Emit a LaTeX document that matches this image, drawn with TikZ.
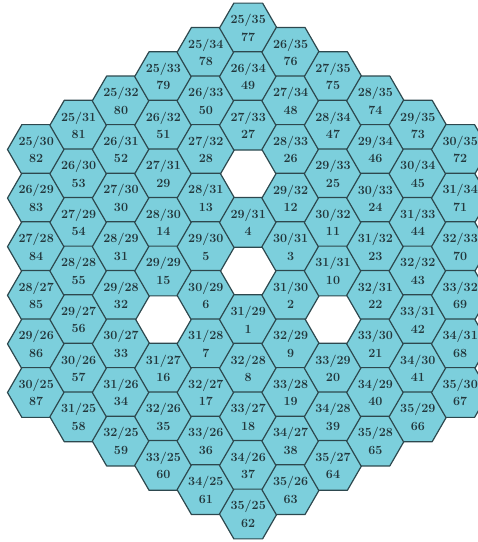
\documentclass[tikz,border=0pt]{standalone}
\usepackage{amsmath,amssymb}
\usepackage{tikz}
\usetikzlibrary{shapes.geometric}
\definecolor{cellfill}{RGB}{124,207,220}
\definecolor{celledge}{RGB}{45,72,78}
\definecolor{celltext}{RGB}{35,55,60}
\begin{document}
\begin{tikzpicture}[line cap=round,line join=round,x={(42.4pt,-24.3pt)},y={(42.4pt,24.3pt)},
  hexcell/.style={shape=regular polygon,regular polygon sides=6,minimum size=56.4pt,inner sep=0pt,
    draw=celledge,fill=cellfill,line width=1.2pt,text=celltext,align=center,
    font=\fontsize{12.5}{17.5}\selectfont\bfseries}]
\useasboundingbox (2295.8pt,-271pt) rectangle (2773.8pt,271pt);
\clip (2295.8pt,-271pt) rectangle (2773.8pt,271pt);
\node [hexcell] (h25-30) at (25,30) {25/30\\82};
\node [hexcell] (h26-29) at (26,29) {26/29\\83};
\node [hexcell] (h27-28) at (27,28) {27/28\\84};
\node [hexcell] (h28-27) at (28,27) {28/27\\85};
\node [hexcell] (h29-26) at (29,26) {29/26\\86};
\node [hexcell] (h30-25) at (30,25) {30/25\\87};
\node [hexcell] (h25-31) at (25,31) {25/31\\81};
\node [hexcell] (h26-30) at (26,30) {26/30\\53};
\node [hexcell] (h27-29) at (27,29) {27/29\\54};
\node [hexcell] (h28-28) at (28,28) {28/28\\55};
\node [hexcell] (h29-27) at (29,27) {29/27\\56};
\node [hexcell] (h30-26) at (30,26) {30/26\\57};
\node [hexcell] (h31-25) at (31,25) {31/25\\58};
\node [hexcell] (h25-32) at (25,32) {25/32\\80};
\node [hexcell] (h26-31) at (26,31) {26/31\\52};
\node [hexcell] (h27-30) at (27,30) {27/30\\30};
\node [hexcell] (h28-29) at (28,29) {28/29\\31};
\node [hexcell] (h29-28) at (29,28) {29/28\\32};
\node [hexcell] (h30-27) at (30,27) {30/27\\33};
\node [hexcell] (h31-26) at (31,26) {31/26\\34};
\node [hexcell] (h32-25) at (32,25) {32/25\\59};
\node [hexcell] (h25-33) at (25,33) {25/33\\79};
\node [hexcell] (h26-32) at (26,32) {26/32\\51};
\node [hexcell] (h27-31) at (27,31) {27/31\\29};
\node [hexcell] (h28-30) at (28,30) {28/30\\14};
\node [hexcell] (h29-29) at (29,29) {29/29\\15};
\node [hexcell] (h31-27) at (31,27) {31/27\\16};
\node [hexcell] (h32-26) at (32,26) {32/26\\35};
\node [hexcell] (h33-25) at (33,25) {33/25\\60};
\node [hexcell] (h25-34) at (25,34) {25/34\\78};
\node [hexcell] (h26-33) at (26,33) {26/33\\50};
\node [hexcell] (h27-32) at (27,32) {27/32\\28};
\node [hexcell] (h28-31) at (28,31) {28/31\\13};
\node [hexcell] (h29-30) at (29,30) {29/30\\5};
\node [hexcell] (h30-29) at (30,29) {30/29\\6};
\node [hexcell] (h31-28) at (31,28) {31/28\\7};
\node [hexcell] (h32-27) at (32,27) {32/27\\17};
\node [hexcell] (h33-26) at (33,26) {33/26\\36};
\node [hexcell] (h34-25) at (34,25) {34/25\\61};
\node [hexcell] (h25-35) at (25,35) {25/35\\77};
\node [hexcell] (h26-34) at (26,34) {26/34\\49};
\node [hexcell] (h27-33) at (27,33) {27/33\\27};
\node [hexcell] (h29-31) at (29,31) {29/31\\4};
\node [hexcell] (h31-29) at (31,29) {31/29\\1};
\node [hexcell] (h32-28) at (32,28) {32/28\\8};
\node [hexcell] (h33-27) at (33,27) {33/27\\18};
\node [hexcell] (h34-26) at (34,26) {34/26\\37};
\node [hexcell] (h35-25) at (35,25) {35/25\\62};
\node [hexcell] (h26-35) at (26,35) {26/35\\76};
\node [hexcell] (h27-34) at (27,34) {27/34\\48};
\node [hexcell] (h28-33) at (28,33) {28/33\\26};
\node [hexcell] (h29-32) at (29,32) {29/32\\12};
\node [hexcell] (h30-31) at (30,31) {30/31\\3};
\node [hexcell] (h31-30) at (31,30) {31/30\\2};
\node [hexcell] (h32-29) at (32,29) {32/29\\9};
\node [hexcell] (h33-28) at (33,28) {33/28\\19};
\node [hexcell] (h34-27) at (34,27) {34/27\\38};
\node [hexcell] (h35-26) at (35,26) {35/26\\63};
\node [hexcell] (h27-35) at (27,35) {27/35\\75};
\node [hexcell] (h28-34) at (28,34) {28/34\\47};
\node [hexcell] (h29-33) at (29,33) {29/33\\25};
\node [hexcell] (h30-32) at (30,32) {30/32\\11};
\node [hexcell] (h31-31) at (31,31) {31/31\\10};
\node [hexcell] (h33-29) at (33,29) {33/29\\20};
\node [hexcell] (h34-28) at (34,28) {34/28\\39};
\node [hexcell] (h35-27) at (35,27) {35/27\\64};
\node [hexcell] (h28-35) at (28,35) {28/35\\74};
\node [hexcell] (h29-34) at (29,34) {29/34\\46};
\node [hexcell] (h30-33) at (30,33) {30/33\\24};
\node [hexcell] (h31-32) at (31,32) {31/32\\23};
\node [hexcell] (h32-31) at (32,31) {32/31\\22};
\node [hexcell] (h33-30) at (33,30) {33/30\\21};
\node [hexcell] (h34-29) at (34,29) {34/29\\40};
\node [hexcell] (h35-28) at (35,28) {35/28\\65};
\node [hexcell] (h29-35) at (29,35) {29/35\\73};
\node [hexcell] (h30-34) at (30,34) {30/34\\45};
\node [hexcell] (h31-33) at (31,33) {31/33\\44};
\node [hexcell] (h32-32) at (32,32) {32/32\\43};
\node [hexcell] (h33-31) at (33,31) {33/31\\42};
\node [hexcell] (h34-30) at (34,30) {34/30\\41};
\node [hexcell] (h35-29) at (35,29) {35/29\\66};
\node [hexcell] (h30-35) at (30,35) {30/35\\72};
\node [hexcell] (h31-34) at (31,34) {31/34\\71};
\node [hexcell] (h32-33) at (32,33) {32/33\\70};
\node [hexcell] (h33-32) at (33,32) {33/32\\69};
\node [hexcell] (h34-31) at (34,31) {34/31\\68};
\node [hexcell] (h35-30) at (35,30) {35/30\\67};
\end{tikzpicture}
\end{document}
